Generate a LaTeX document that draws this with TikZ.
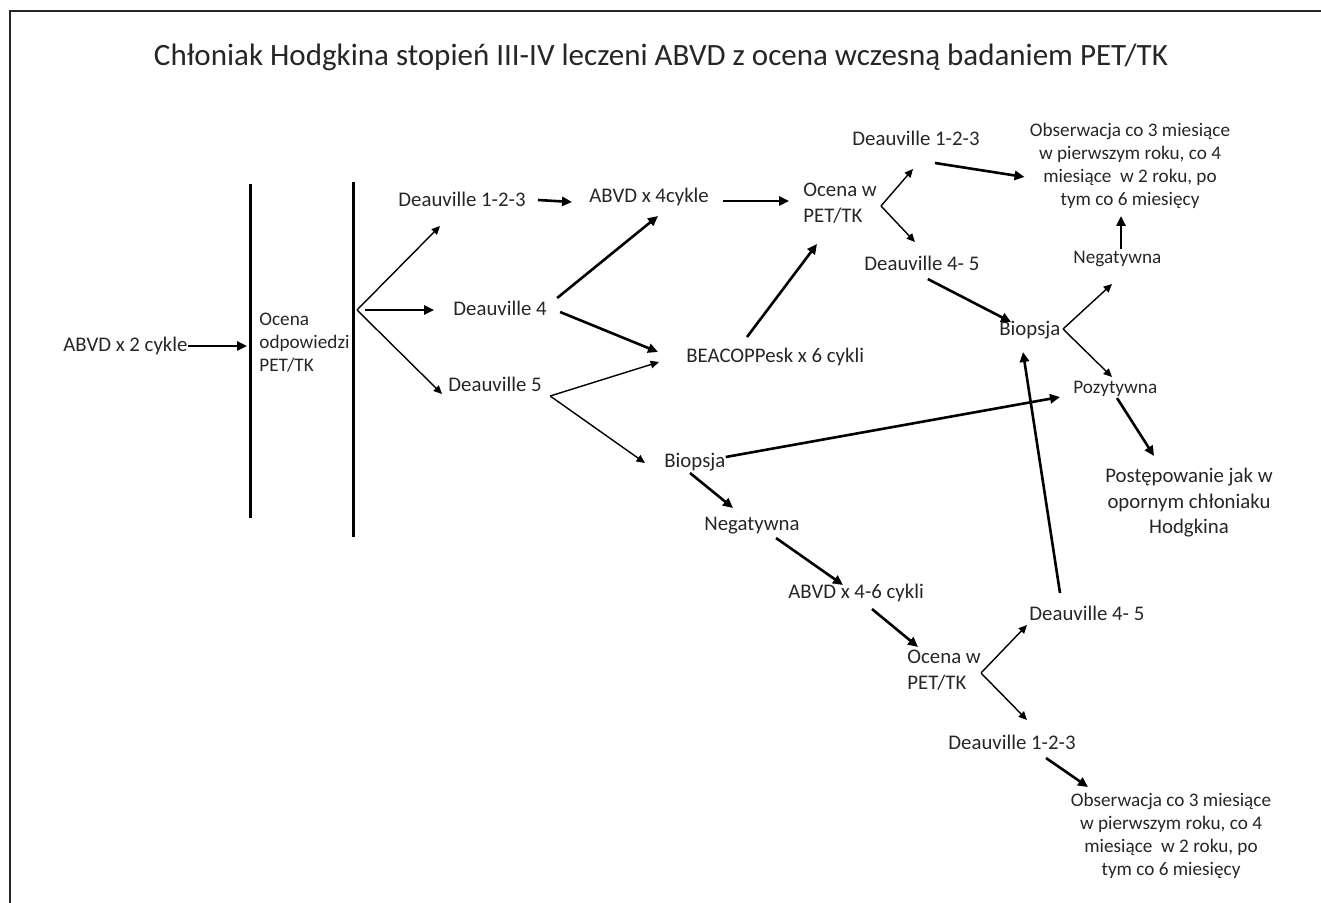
\documentclass[tikz,border=0pt]{standalone}
\usepackage{fontspec}
\setmainfont{Carlito}
\usepackage{tikz}
\usetikzlibrary{arrows.meta}
\definecolor{txtgray}{HTML}{262626}

\begin{document}
\begin{tikzpicture}[x=0.5pt, y=-0.5pt,
    lbl/.style={inner sep=0pt, text=txtgray, font=\fontsize{10.4}{13}\selectfont},
    smalllbl/.style={inner sep=0pt, text=txtgray, font=\fontsize{9.6}{11.5}\selectfont},
    arr/.style={line width=1.3pt, -{Triangle[length=5pt,width=4.6pt]}},
    thinarr/.style={line width=0.7pt, -{Triangle[length=4.2pt,width=3.8pt]}},
    bar/.style={line width=1.5pt}]
            \useasboundingbox (0,0) rectangle (1321,903);
            \draw[line width=1pt, black!85] (10,903) -- (10,11) -- (1321,11);

            \node[inner sep=0pt, text=txtgray, font=\fontsize{15.5}{18}\selectfont] (title) at (661,57) {Chłoniak Hodgkina stopień III-IV leczeni ABVD z ocena wczesną badaniem PET/TK};

            \coordinate (bar1top) at (250,184);
            \coordinate (bar1bot) at (250,518);
            \coordinate (bar2top) at (353,182);
            \coordinate (bar2bot) at (353,537);
            \draw[bar] (bar1top) -- (bar1bot);
            \draw[bar] (bar2top) -- (bar2bot);

            \node[lbl, anchor=west] (abvd2) at (63,346) {ABVD x 2 cykle};
            \node[smalllbl, anchor=west, align=left] (ocena1) at (259,343) {Ocena\\odpowiedzi\\PET/TK};
            \node[lbl, anchor=west] (d123a) at (398,199) {Deauville 1-2-3};
            \node[lbl, anchor=west] (d4a) at (453,308) {Deauville 4};
            \node[lbl, anchor=west] (d5a) at (448,384) {Deauville 5};
            \node[lbl, anchor=west] (abvd4) at (589,197) {ABVD x 4cykle};
            \node[lbl, anchor=west] (beac) at (686,357) {BEACOPPesk x 6 cykli};
            \node[lbl, anchor=west, align=left] (ocena2) at (803,203) {Ocena w\\PET/TK};
            \node[lbl, anchor=west] (d123b) at (852,138) {Deauville 1-2-3};
            \node[lbl, anchor=west] (d45a) at (864,263) {Deauville 4- 5};
            \node[smalllbl, align=center] (obs1) at (1130,166) {Obserwacja co 3 miesiące\\w pierwszym roku, co 4\\miesiące\ \ w 2 roku, po\\tym co 6 miesięcy};
            \node[lbl, anchor=west] (biop1) at (999,330) {Biopsja};
            \node[smalllbl, anchor=west] (neg1) at (1073,259) {Negatywna};
            \node[smalllbl, anchor=west] (poz) at (1073,389) {Pozytywna};
            \node[lbl, align=center, font=\fontsize{10.4}{12.75}\selectfont] (post) at (1189,503) {Postępowanie jak w\\opornym chłoniaku\\Hodgkina};
            \node[lbl, anchor=west] (biop2) at (664,462) {Biopsja};
            \node[lbl, anchor=west] (neg2) at (704,526) {Negatywna};
            \node[lbl, anchor=west] (abvd46) at (788,593) {ABVD x 4-6 cykli};
            \node[lbl, anchor=west, align=left] (ocena3) at (907,670) {Ocena w\\PET/TK};
            \node[lbl, anchor=west] (d45b) at (1029,613) {Deauville 4- 5};
            \node[lbl, anchor=west] (d123c) at (948,742) {Deauville 1-2-3};
            \node[smalllbl, align=center] (obs2) at (1171,836) {Obserwacja co 3 miesiące\\w pierwszym roku, co 4\\miesiące\ \ w 2 roku, po\\tym co 6 miesięcy};

            \coordinate (br1) at (357,310);
            \coordinate (br2) at (881,206);
            \coordinate (br3) at (1063,329);
            \coordinate (br4) at (981,673);
            \coordinate (br5) at ([shift={(8,12)}]d5a.east);

            \draw[arr, shorten >=1.5pt] (abvd2.east) -- (abvd2.east -| bar1top);
            \draw[thinarr] (br1) -- ([shift={(42,27)}]d123a.west);
            \draw[arr, line width=1pt] ([xshift=4]br1) -- ([shift={(-19,2)}]d4a.west);
            \draw[thinarr] (br1) -- ([shift={(-6,10)}]d5a.west);
            \draw[arr] ([shift={(12,1)}]d123a.east) -- ([shift={(-17,5)}]abvd4.west);
            \draw[arr] ([shift={(14,4)}]abvd4.east) -- ([shift={(-14,-2)}]ocena2.west);
            \draw[arr] ([shift={(13,4)}]d4a.east) -- ([shift={(-28,-5)}]beac.west);
            \draw[arr] ([shift={(10,-10)}]d4a.east) -- ([shift={(69,19)}]abvd4.west);
            \draw[thinarr] (br5) -- ([shift={(-27,5)}]beac.west);
            \draw[thinarr] (br5) -- ([shift={(-19,1)}]biop2.west);
            \draw[arr] ([shift={(61,-20)}]beac.west) -- ([shift={(14,41)}]ocena2.west);
            \draw[thinarr] (br2) -- ([shift={(61,31)}]d123b.west);
            \draw[thinarr] (br2) -- ([shift={(51,-21)}]d45a.west);
            \draw[arr] ([shift={(-45,25)}]d123b.east) -- ([shift={(-5,11)}]obs1.west);
            \draw[arr] ([shift={(-52,16)}]d45a.east) -- ([shift={(12,-8)}]biop1.west);
            \draw[thinarr] (br3) -- ([shift={(39,25)}]neg1.west);
            \draw[thinarr] (br3) -- ([shift={(39,-12)}]poz.west);
            \draw[arr] ([shift={(48,-10)}]neg1.west) -- ([shift={(48,-43)}]neg1.west);
            \draw[arr] ([shift={(44,9)}]poz.west) -- ([shift={(81,67)}]poz.west);
            \draw[arr] ([shift={(0,-5)}]biop2.east) -- ([shift={(-13,8)}]poz.west);
            \draw[arr] ([shift={(26,11)}]biop2.west) -- ([shift={(29,-18)}]neg2.west);
            \draw[arr] ([shift={(72,12)}]neg2.west) -- ([shift={(55,-8)}]abvd46.west);
            \draw[arr] ([shift={(84,16)}]abvd46.west) -- ([shift={(11,-23)}]ocena3.west);
            \draw[thinarr] (br4) -- ([shift={(-2,12)}]d45b.west);
            \draw[thinarr] (br4) -- ([shift={(79,-22)}]d123c.west);
            \draw[arr] ([shift={(31,-20)}]d45b.west) -- ([shift={(24,22)}]biop1.west);
            \draw[arr] ([shift={(98,16)}]d123c.west) -- ([shift={(140,45)}]d123c.west);
        \end{tikzpicture}
\end{document}
